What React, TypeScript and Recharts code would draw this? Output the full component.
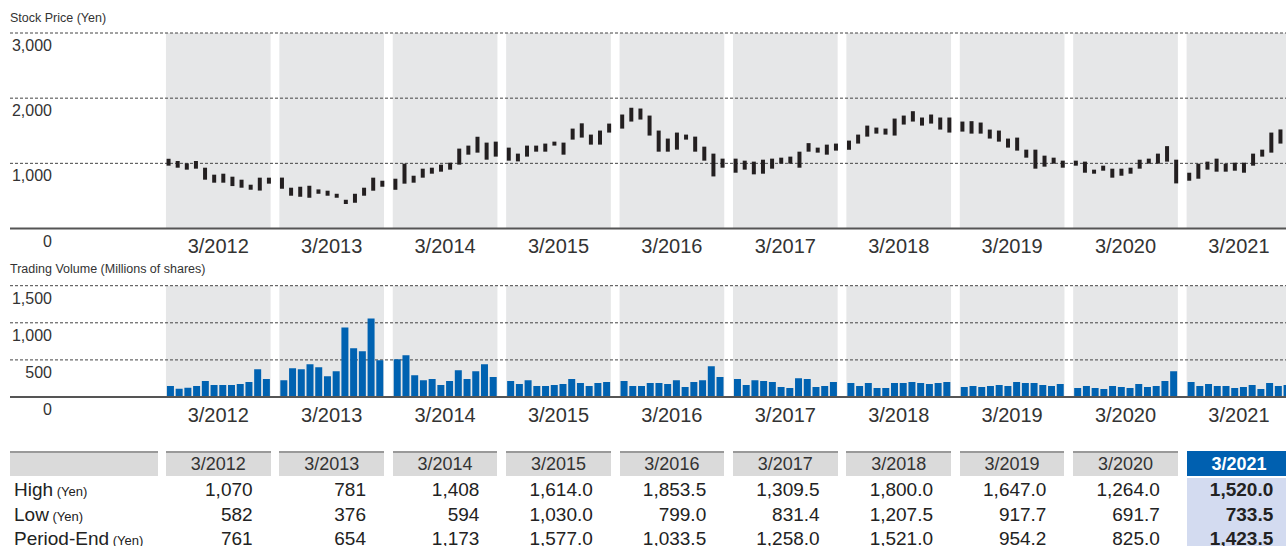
import React from 'react';
import { Bar, ComposedChart, ReferenceArea, ReferenceLine, XAxis, YAxis } from 'recharts';

// fiscal years (ending March)
const fiscalYears = ['3/2012', '3/2013', '3/2014', '3/2015', '3/2016', '3/2017', '3/2018', '3/2019', '3/2020', '3/2021'];

// monthly high / low stock price (yen), April..March of each fiscal year
const priceHigh = [
  1070, 1036, 1000, 1036, 933, 826, 841, 795, 749, 672, 780, 780,
  781, 626, 641, 656, 600, 580, 533, 441, 533, 626, 780, 733,
  764, 995, 810, 918, 933, 980, 1010, 1226, 1272, 1408, 1318, 1333,
  1241, 1149, 1272, 1272, 1303, 1333, 1318, 1533, 1614, 1441, 1503, 1610,
  1749, 1853, 1841, 1733, 1503, 1380, 1472, 1441, 1410, 1256, 1149, 1072,
  1072, 1041, 1026, 1056, 1072, 1087, 1103, 1179, 1310, 1241, 1287, 1303,
  1349, 1441, 1579, 1549, 1533, 1687, 1733, 1800, 1703, 1749, 1703, 1703,
  1641, 1647, 1626, 1518, 1503, 1380, 1395, 1210, 1210, 1118, 1087, 1041,
  1041, 1026, 903, 964, 918, 918, 933, 1056, 1072, 1149, 1264, 1056,
  856, 995, 1026, 1072, 995, 1010, 1010, 1149, 1210, 1472, 1520, 1500,
];
const priceLow = [
  964, 933, 903, 918, 749, 703, 703, 651, 626, 595, 582, 688,
  610, 503, 487, 472, 533, 503, 472, 376, 395, 503, 580, 641,
  594, 688, 703, 780, 841, 872, 903, 980, 1133, 1164, 1056, 1103,
  1041, 1030, 1103, 1179, 1179, 1272, 1133, 1364, 1395, 1287, 1287, 1472,
  1533, 1641, 1672, 1426, 1179, 1179, 1210, 1364, 1179, 1041, 799, 933,
  856, 903, 831, 841, 918, 995, 995, 933, 1179, 1164, 1133, 1195,
  1208, 1303, 1410, 1456, 1441, 1426, 1595, 1641, 1579, 1610, 1518, 1472,
  1487, 1456, 1456, 1380, 1333, 1241, 1195, 1087, 918, 949, 995, 933,
  964, 856, 841, 887, 780, 810, 841, 918, 995, 995, 1026, 692,
  733, 764, 903, 872, 872, 887, 856, 964, 1103, 1164, 1303, 1380,
];

// monthly trading volume (millions of shares)
const volume = [
  147, 112, 125, 147, 214, 161, 161, 161, 174, 201, 375, 241,
  227, 388, 375, 442, 401, 281, 348, 937, 656, 615, 1057, 495,
  509, 562, 294, 227, 241, 161, 214, 361, 241, 348, 442, 268,
  214, 174, 227, 147, 147, 161, 174, 241, 187, 147, 187, 201,
  214, 147, 147, 187, 187, 174, 227, 134, 201, 227, 415, 268,
  241, 161, 227, 214, 201, 134, 120, 254, 241, 134, 147, 201,
  187, 147, 187, 120, 120, 187, 187, 201, 187, 174, 187, 201,
  134, 147, 134, 147, 161, 147, 201, 187, 187, 161, 147, 174,
  120, 147, 120, 107, 147, 134, 120, 174, 134, 147, 214, 348,
  201, 147, 174, 147, 147, 120, 134, 161, 107, 187, 147, 161,
];

const priceTicks = [0, 1000, 2000, 3000];
const volumeTicks = [0, 500, 1000, 1500];

// summary table
const tableHigh = ['1,070', '781', '1,408', '1,614.0', '1,853.5', '1,309.5', '1,800.0', '1,647.0', '1,264.0', '1,520.0'];
const tableLow = ['582', '376', '594', '1,030.0', '799.0', '831.4', '1,207.5', '917.7', '691.7', '733.5'];
const tableEnd = ['761', '654', '1,173', '1,577.0', '1,033.5', '1,258.0', '1,521.0', '954.2', '825.0', '1,423.5'];

const FONT = '"Liberation Sans", Arial, Helvetica, sans-serif';
const TEXT = '#333';
const BAND_FILL = '#e6e7e8';
const BLUE = '#0060b0';

// x axis measured in fiscal years; each year band covers 12 of 13 slots
const X_DOMAIN: [number, number] = [-1.375, 10];
const CHART_W = 1300;
const PLOT_LEFT = 10;
const YEAR_PX = (CHART_W - PLOT_LEFT) / (X_DOMAIN[1] - X_DOMAIN[0]);
const BAND = 12 / 13;
const candleX = (y: number, m: number) => y + (m + 0.24) / 12.43;
const volumeX = (y: number, m: number) => y + (m + 0.5) / 13;
const yearTicks = fiscalYears.map((_, i) => i + BAND / 2);
const yearLabel = (v: number) => fiscalYears[Math.round(v - BAND / 2)] ?? '';

const priceData = priceHigh.map((h, i) => ({
  x: candleX(Math.floor(i / 12), i % 12),
  range: [priceLow[i], h],
}));
const volumeData = volume.map((v, i) => ({
  x: volumeX(Math.floor(i / 12), i % 12),
  volume: v,
}));

function ValueTick(props: any) {
  const { y, payload } = props;
  return (
    <text x={52} y={y + 12.5} dy="0.35em" textAnchor="end" fontSize={16} fill={TEXT} fontFamily={FONT}>
      {payload.value.toLocaleString('en-US')}
    </text>
  );
}

function PanelChart({
  data,
  dataKey,
  color,
  barSize,
  ticks,
  height,
  marginTop,
  axisHeight,
}: {
  data: any[];
  dataKey: string;
  color: string;
  barSize: number;
  ticks: number[];
  height: number;
  marginTop: number;
  axisHeight: number;
}) {
  const top = ticks[ticks.length - 1];
  return (
    <ComposedChart width={CHART_W} height={height} data={data} margin={{ top: marginTop, right: 0, bottom: 0, left: PLOT_LEFT }}>
      <XAxis
        dataKey="x"
        type="number"
        domain={X_DOMAIN}
        allowDataOverflow
        ticks={yearTicks}
        interval={0}
        tickFormatter={yearLabel}
        tickLine={false}
        tickSize={0}
        tickMargin={10.5}
        height={axisHeight}
        axisLine={{ stroke: '#555', strokeWidth: 2 }}
        tick={{ fontSize: 20, fill: TEXT, fontFamily: FONT }}
      />
      <YAxis
        type="number"
        domain={[0, top]}
        ticks={ticks}
        interval={0}
        mirror
        axisLine={false}
        tickLine={false}
        tick={<ValueTick />}
      />
      {fiscalYears.map((_, i) => (
        <ReferenceArea
          key={i}
          x1={i}
          x2={i + BAND}
          y1={0}
          y2={top}
          fill={BAND_FILL}
          fillOpacity={1}
          stroke="none"
          ifOverflow="visible"
          zIndex={-200}
        />
      ))}
      {ticks.slice(1).map((t) => (
        <ReferenceLine key={t} y={t} stroke="#444" strokeWidth={1} strokeDasharray="3 2" zIndex={-100} />
      ))}
      <Bar dataKey={dataKey} fill={color} barSize={barSize} isAnimationActive={false} />
    </ComposedChart>
  );
}

function Table() {
  const colLeft = (i: number) => PLOT_LEFT + (i - X_DOMAIN[0]) * YEAR_PX;
  const colW = BAND * YEAR_PX;
  const rows = [
    { label: 'High', values: tableHigh },
    { label: 'Low', values: tableLow },
    { label: 'Period-End', values: tableEnd },
  ];
  const headerTop = 451;
  const headerH = 25;
  const rowTop = 478;
  const rowH = 24.5;
  const last = fiscalYears.length - 1;
  return (
    <div style={{ position: 'absolute', left: 0, top: 0 }}>
      <div
        style={{
          position: 'absolute', left: 10, top: headerTop, width: 148, height: headerH,
          background: '#dadada', borderTop: '2px solid #999', boxSizing: 'border-box',
        }}
      />
      {fiscalYears.map((fy, i) => (
        <div
          key={fy}
          style={{
            position: 'absolute', left: colLeft(i), top: headerTop, width: colW, height: headerH,
            background: i === last ? BLUE : '#dadada',
            borderTop: i === last ? `2px solid ${BLUE}` : '2px solid #999',
            boxSizing: 'border-box', textAlign: 'center', fontSize: 18,
            lineHeight: `${headerH - 2}px`, color: i === last ? '#fff' : TEXT,
            fontWeight: i === last ? 700 : 400,
          }}
        >
          {fy}
        </div>
      ))}
      <div
        style={{
          position: 'absolute', left: colLeft(last), top: rowTop, width: colW, height: 80,
          background: '#d3dbf0',
        }}
      />
      {rows.map((r, ri) => (
        <React.Fragment key={r.label}>
          <div
            style={{
              position: 'absolute', left: 14, top: rowTop + ri * rowH, height: rowH,
              lineHeight: `${rowH}px`, fontSize: 19, color: '#222', whiteSpace: 'nowrap',
            }}
          >
            {r.label}
            <span style={{ fontSize: 13 }}> (Yen)</span>
          </div>
          {r.values.map((v, i) => (
            <div
              key={i}
              style={{
                position: 'absolute', left: colLeft(i), top: rowTop + ri * rowH, width: colW - 18, height: rowH,
                lineHeight: `${rowH}px`, fontSize: 19, textAlign: 'right', color: '#222',
                fontWeight: i === last ? 700 : 400,
              }}
            >
              {v}
            </div>
          ))}
        </React.Fragment>
      ))}
    </div>
  );
}

export default function App() {
  return (
    <div
      style={{
        position: 'absolute', left: 0, top: 0, width: 1286, height: 546, overflow: 'hidden',
        background: '#fff', fontFamily: FONT, color: TEXT,
      }}
    >
      <div style={{ position: 'absolute', left: 10, top: 12, fontSize: 12.5, lineHeight: 1, whiteSpace: 'nowrap' }}>
        Stock Price (Yen)
      </div>
      <div style={{ position: 'absolute', left: 0, top: 0 }}>
        <PanelChart
          data={priceData}
          dataKey="range"
          color="#231f20"
          barSize={4}
          ticks={priceTicks}
          height={260}
          marginTop={33}
          axisHeight={31.5}
        />
      </div>
      <div style={{ position: 'absolute', left: 10, top: 263, fontSize: 12.5, lineHeight: 1, whiteSpace: 'nowrap' }}>
        Trading Volume (Millions of shares)
      </div>
      <div style={{ position: 'absolute', left: 0, top: 260 }}>
        <PanelChart
          data={volumeData}
          dataKey="volume"
          color="#0062b1"
          barSize={7}
          ticks={volumeTicks}
          height={170}
          marginTop={25.7}
          axisHeight={33}
        />
      </div>
      <Table />
    </div>
  );
}
